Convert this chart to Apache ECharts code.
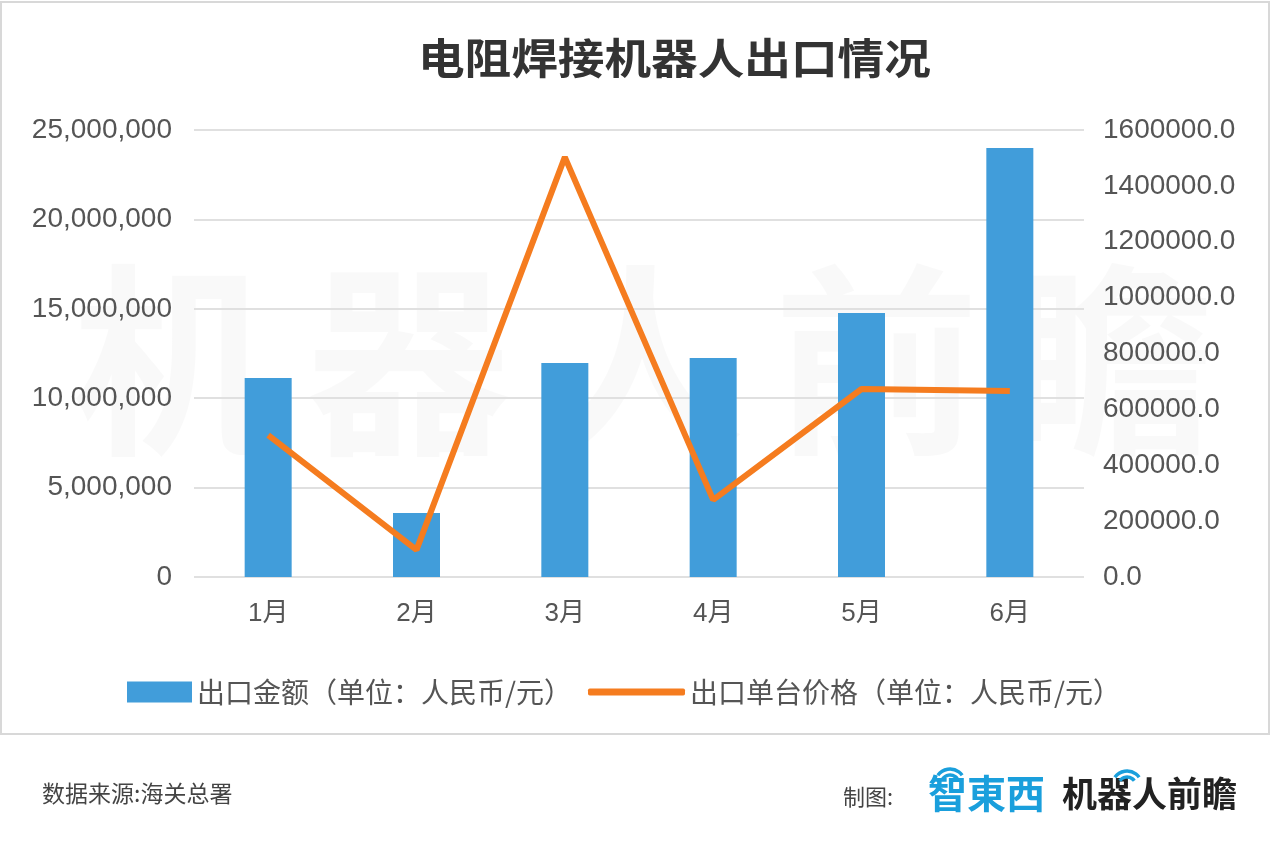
<!DOCTYPE html>
<html>
<head>
<meta charset="utf-8">
<script src="https://cdn.jsdelivr.net/npm/echarts@6.0.0/dist/echarts.min.js"></script>
<style>
    html, body { margin: 0; padding: 0; background: #fff; }
    #chart { width: 1275px; height: 846px; }
</style>
</head>
<body>
<div id="chart"></div>
<script>
    // data
    var months = ['1月', '2月', '3月', '4月', '5月', '6月'];
    var exportAmount = [11130000, 3580000, 11970000, 12250000, 14770000, 23990000];
    var unitPrice = [508000, 97000, 1503000, 276000, 673000, 666000];

    var amountName = '出口金额（单位：人民币/元）';
    var priceName = '出口单台价格（单位：人民币/元）';

    var font = "'Liberation Sans', 'Noto Sans CJK SC', sans-serif";
    var cjk = "'Noto Sans CJK SC', sans-serif";

    // faint watermark, one glyph each
    var mark = '机器人前瞻'.split('').map(function (ch, i) {
        return {
            type: 'text',
            z: -5,
            left: 72 + i * 234,
            top: 258,
            style: { text: ch, font: 'bold 205px ' + cjk, fill: 'rgba(0,0,0,0.025)' }
        };
    });

    // little wifi arcs over the logo
    function arcs(cx, cy) {
        return [9, 15].map(function (r) {
            return {
                type: 'arc',
                shape: { cx: cx, cy: cy, r: r, startAngle: Math.PI * 1.2, endAngle: Math.PI * 1.8 },
                style: { stroke: '#1a9fdc', lineWidth: 3.5, fill: 'none' }
            };
        });
    }

    var chart = echarts.init(document.getElementById('chart'));
    chart.setOption({
        animation: false,
        backgroundColor: '#fff',
        legend: [
            {
                data: [amountName],
                left: 122,
                top: 673,
                icon: 'rect',
                itemWidth: 65,
                itemHeight: 21,
                itemGap: 10,
                textStyle: { fontFamily: cjk, fontSize: 28, color: '#555' }
            },
            {
                data: [priceName],
                left: 583,
                top: 673,
                icon: 'roundRect',
                itemWidth: 97,
                itemHeight: 7,
                textStyle: { fontFamily: cjk, fontSize: 28, color: '#555' }
            }
        ],
        grid: { left: 194, right: 191, top: 130, bottom: 269 },
        xAxis: {
            type: 'category',
            data: months,
            axisLine: { show: false },
            axisTick: { show: false },
            axisLabel: { margin: 24, fontFamily: font, fontSize: 26, color: '#555' }
        },
        yAxis: [
            {
                type: 'value',
                min: 0,
                max: 25000000,
                interval: 5000000,
                axisLabel: {
                    margin: 22,
                    fontFamily: font,
                    fontSize: 28,
                    color: '#555',
                    formatter: function (v) { return v.toLocaleString('en-US'); }
                },
                splitLine: { lineStyle: { color: '#e0e0e0', width: 2 } }
            },
            {
                type: 'value',
                min: 0,
                max: 1600000,
                interval: 200000,
                axisLabel: {
                    margin: 19,
                    fontFamily: font,
                    fontSize: 28,
                    color: '#555',
                    formatter: function (v) { return v.toFixed(1); }
                },
                splitLine: { show: false }
            }
        ],
        graphic: [
            {
                type: 'rect',
                z: -10,
                shape: { x: 1, y: 2, width: 1268, height: 732 },
                style: { fill: 'none', stroke: '#d8d8d8', lineWidth: 2 }
            },
            {
                type: 'text',
                x: 418,
                y: 37,
                scaleX: 1.11,
                style: { text: '电阻焊接机器人出口情况', font: 'bold 42px ' + cjk, fill: '#333' }
            },
            {
                type: 'text',
                left: 42,
                top: 782,
                style: { text: '数据来源:海关总署', font: '23px ' + cjk, fill: '#444' }
            },
            {
                type: 'text',
                left: 843,
                top: 786,
                style: { text: '制图:', font: '22px ' + cjk, fill: '#444' }
            },
            {
                type: 'text',
                left: 928,
                top: 774,
                style: { text: '智東西', font: 'bold 39px ' + cjk, fill: '#1a9fdc' }
            },
            {
                type: 'text',
                left: 1062,
                top: 776,
                style: { text: '机器人前瞻', font: 'bold 35px ' + cjk, fill: '#222' }
            }
        ].concat(mark, arcs(950, 784), arcs(1127, 786)),
        series: [
            {
                name: amountName,
                type: 'bar',
                data: exportAmount,
                barWidth: 47,
                itemStyle: { color: '#419dda' }
            },
            {
                name: priceName,
                type: 'line',
                yAxisIndex: 1,
                data: unitPrice,
                symbol: 'none',
                lineStyle: { color: '#f57c1f', width: 6 },
                itemStyle: { color: '#f57c1f' }
            }
        ]
    });
</script>
</body>
</html>
